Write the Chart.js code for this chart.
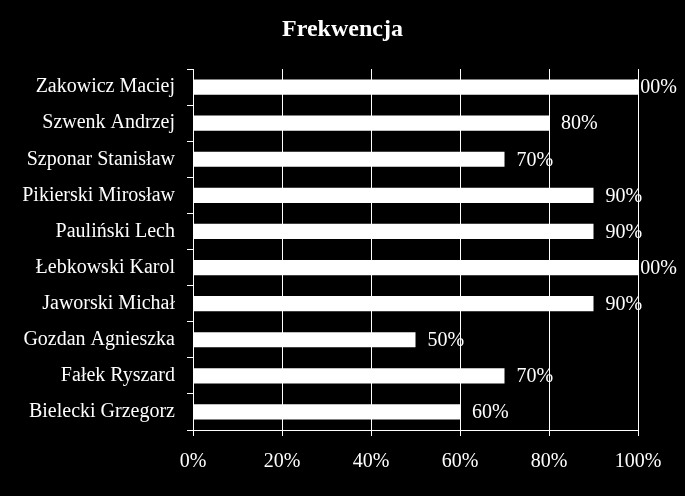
<!DOCTYPE html>
<html>
<head>
<meta charset="utf-8">
<script src="https://cdn.jsdelivr.net/npm/chart.js@4"></script>
<style>
html,body{margin:0;padding:0;background:#000;}
#wrap{width:685px;height:496px;}
</style>
</head>
<body>
<div id="wrap"><canvas id="c" width="685" height="496"></canvas></div>
<script>
const chartTitle = "Frekwencja";
const categories = ["Zakowicz Maciej","Szwenk Andrzej","Szponar Stanisław","Pikierski Mirosław","Pauliński Lech","Łebkowski Karol","Jaworski Michał","Gozdan Agnieszka","Fałek Ryszard","Bielecki Grzegorz"];
const attendance = [100,80,70,90,90,100,90,50,70,60];
const xTicks = [0,20,40,60,80,100];

const FONT = "'Liberation Serif', 'Times New Roman', serif";

const centeredTitle = {
  id: 'centeredTitle',
  afterDraw(chart) {
    const ctx = chart.ctx;
    ctx.save();
    ctx.font = "bold 24px " + FONT;
    ctx.fillStyle = "#fff";
    ctx.textAlign = "center";
    ctx.textBaseline = "middle";
    ctx.fillText(chartTitle, chart.width / 2, 30);
    ctx.restore();
  }
};

const valueLabels = {
  id: 'valueLabels',
  afterDatasetsDraw(chart) {
    const ctx = chart.ctx;
    const meta = chart.getDatasetMeta(0);
    ctx.save();
    ctx.font = "20px " + FONT;
    ctx.fillStyle = "#fff";
    ctx.textBaseline = "middle";
    ctx.textAlign = "left";
    meta.data.forEach((bar, i) => {
      const txt = attendance[i] + "%";
      const w = ctx.measureText(txt).width;
      let x = bar.x + 12;
      const maxX = chart.width - 8 - w;
      if (x > maxX) x = maxX;
      ctx.fillText(txt, x, bar.y + 1);
    });
    ctx.restore();
  }
};

new Chart(document.getElementById('c'), {
  type: 'bar',
  data: {
    labels: categories,
    datasets: [{
      data: attendance,
      backgroundColor: '#fff',
      borderWidth: 0,
      barPercentage: 0.42,
      categoryPercentage: 1.0
    }]
  },
  options: {
    indexAxis: 'y',
    responsive: false,
    animation: false,
    devicePixelRatio: 1,
    layout: { padding: { left: 0, right: 47, top: 69, bottom: 0 } },
    plugins: {
      legend: { display: false },
      tooltip: { enabled: false },
      title: { display: false }
    },
    scales: {
      x: {
        min: 0, max: 100,
        afterBuildTicks(scale) { scale.ticks = xTicks.map(v => ({ value: v })); },
        afterFit(scale) { scale.height = 66; },
        border: { display: true, color: '#fff', width: 1 },
        grid: { display: true, color: '#fff', lineWidth: 1, drawTicks: true, tickLength: 6, tickColor: '#fff' },
        ticks: { color: '#fff', padding: 14, font: { family: FONT, size: 20 }, callback: v => v + '%' }
      },
      y: {
        afterFit(scale) { scale.width = 193; },
        border: { display: true, color: '#fff', width: 1 },
        grid: { display: true, drawOnChartArea: false, offset: true, color: '#fff', tickLength: 6, tickColor: '#fff' },
        ticks: { color: '#fff', padding: 12, font: { family: FONT, size: 20 } }
      }
    }
  },
  plugins: [valueLabels, centeredTitle]
});
</script>
</body>
</html>
